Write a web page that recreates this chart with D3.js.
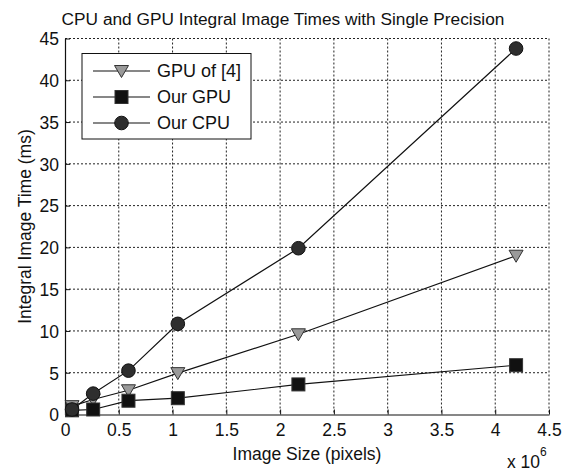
<!DOCTYPE html>
<html>
<head>
<meta charset="utf-8">
<script src="https://cdn.jsdelivr.net/npm/d3@7"></script>
<style>
  body { margin: 0; background: #fff; }
  svg text { font-family: "Liberation Sans", Arial, Helvetica, sans-serif; fill: #111; }
</style>
</head>
<body>
<svg id="chart" width="563" height="471"></svg>
<script>
// image sizes in millions of pixels (x 10^6)
const imageSizes = [0.0655, 0.262, 0.59, 1.049, 2.17, 4.194];
const gpuRef4 = [1.0, 1.8, 2.9, 4.95, 9.6, 19.0];
const ourGpu = [0.5, 0.6, 1.65, 1.95, 3.6, 5.9];
const ourCpu = [0.6, 2.5, 5.25, 10.85, 19.9, 43.8];
const seriesNames = ['GPU of [4]', 'Our GPU', 'Our CPU'];
const xTicks = [0, 0.5, 1, 1.5, 2, 2.5, 3, 3.5, 4, 4.5];
const yTicks = [0, 5, 10, 15, 20, 25, 30, 35, 40, 45];

const svg = d3.select('#chart');
const plotL = 65, plotR = 549, plotT = 38.5, plotB = 414.5;

const x = d3.scaleLinear().domain([0, 4.5]).range([plotL, plotR]);
const y = d3.scaleLinear().domain([0, 45]).range([plotB, plotT]);

// grid (dotted)
const grid = svg.append('g').attr('class', 'grid');
grid.selectAll('line.v')
    .data(xTicks.slice(1))
    .enter().append('line')
    .attr('x1', d => x(d)).attr('x2', d => x(d))
    .attr('y1', plotT).attr('y2', plotB);
grid.selectAll('line.h')
    .data(yTicks.slice(1))
    .enter().append('line')
    .attr('x1', plotL).attr('x2', plotR)
    .attr('y1', d => y(d)).attr('y2', d => y(d));
grid.selectAll('line')
    .attr('stroke', '#222')
    .attr('stroke-width', 1)
    .attr('stroke-dasharray', '2,2');

// axes, ticks pointing inward
const xAxis = svg.append('g')
    .attr('transform', `translate(0,${plotB})`)
    .call(d3.axisBottom(x).tickValues(xTicks).tickSizeInner(-5).tickSizeOuter(0).tickPadding(9)
        .tickFormat(d => d3.format('')(d)));
const yAxis = svg.append('g')
    .attr('transform', `translate(${plotL},0)`)
    .call(d3.axisLeft(y).tickValues(yTicks).tickSizeInner(-5).tickSizeOuter(0).tickPadding(6));

[xAxis, yAxis].forEach(a => {
  a.select('.domain').attr('stroke', '#111').attr('stroke-width', 1.2);
  a.selectAll('.tick line').attr('stroke', '#111');
  a.selectAll('.tick text')
      .attr('font-family', '"Liberation Sans", Arial, sans-serif')
      .attr('font-size', 17.5)
      .attr('fill', '#111');
});
xAxis.selectAll('.tick text').attr('dy', '0.7em');
yAxis.selectAll('.tick text').attr('dy', '0.36em');

// series lines
const line = d3.line().x(d => x(d[0])).y(d => y(d[1]));
const allSeries = [gpuRef4, ourGpu, ourCpu].map(vals => imageSizes.map((s, i) => [s, vals[i]]));

allSeries.forEach(pts => {
  svg.append('path')
      .datum(pts)
      .attr('d', line)
      .attr('fill', 'none')
      .attr('stroke', '#111')
      .attr('stroke-width', 1.2);
});

// markers
function drawMarker(g, kind, cx, cy) {
  if (kind === 0) {
    g.append('path')
        .attr('d', `M${cx - 7},${cy - 5.5} L${cx + 7},${cy - 5.5} L${cx},${cy + 6.5} Z`)
        .attr('fill', '#9a9a9a')
        .attr('stroke', '#333')
        .attr('stroke-width', 1);
  } else if (kind === 1) {
    g.append('rect')
        .attr('x', cx - 6.5).attr('y', cy - 6.5)
        .attr('width', 13).attr('height', 13)
        .attr('fill', '#111')
        .attr('stroke', '#333')
        .attr('stroke-width', 1);
  } else {
    g.append('circle')
        .attr('cx', cx).attr('cy', cy).attr('r', 6.8)
        .attr('fill', '#2e2e2e')
        .attr('stroke', '#111')
        .attr('stroke-width', 1);
  }
}

const markers = svg.append('g');
allSeries.forEach((pts, k) => {
  pts.forEach(p => drawMarker(markers, k, x(p[0]), y(p[1])));
});

// legend
const legend = svg.append('g');
legend.append('rect')
    .attr('x', 82).attr('y', 53.5)
    .attr('width', 169).attr('height', 85.5)
    .attr('fill', '#fff')
    .attr('stroke', '#111')
    .attr('stroke-width', 1);
seriesNames.forEach((name, i) => {
  const ly = 71 + i * 26;
  legend.append('line')
      .attr('x1', 93).attr('x2', 150)
      .attr('y1', ly).attr('y2', ly)
      .attr('stroke', '#111').attr('stroke-width', 1.2);
  drawMarker(legend, i, 121.5, ly);
  legend.append('text')
      .attr('x', 157).attr('y', ly)
      .attr('dy', '0.36em')
      .attr('font-size', 18)
      .text(name);
});

// title and labels
svg.append('text')
    .attr('x', 283).attr('y', 25)
    .attr('text-anchor', 'middle')
    .attr('font-size', 17.3)
    .text('CPU and GPU Integral Image Times with Single Precision');

svg.append('text')
    .attr('x', (plotL + plotR) / 2).attr('y', 460)
    .attr('text-anchor', 'middle')
    .attr('font-size', 17.5)
    .text('Image Size (pixels)');

svg.append('text')
    .attr('transform', `translate(31,${(plotT + plotB) / 2}) rotate(-90)`)
    .attr('text-anchor', 'middle')
    .attr('font-size', 17.5)
    .text('Integral Image Time (ms)');

const expo = svg.append('text').attr('x', 507).attr('y', 468).attr('font-size', 17.5);
expo.append('tspan').text('x 10');
expo.append('tspan').attr('dy', -12).attr('font-size', 12).text('6');
</script>
</body>
</html>
